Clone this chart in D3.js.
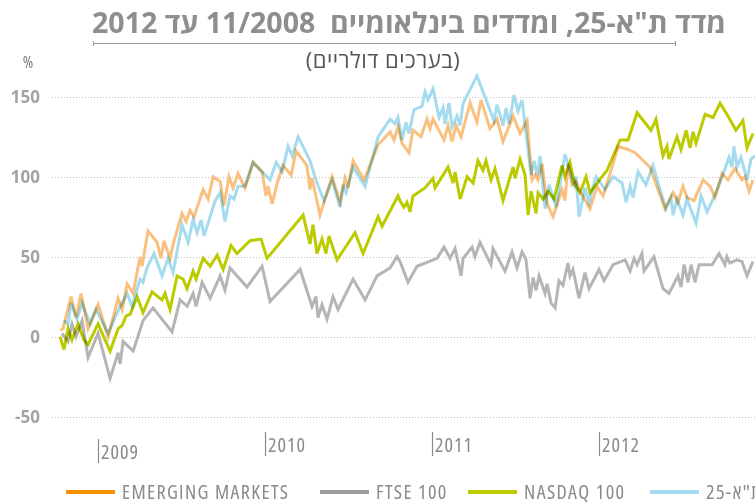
<!doctype html>
<html lang="he">
<head>
<meta charset="utf-8">
<style>
  body { margin: 0; background: #fff; }
  svg { display: block; font-family: "Open Sans", "DejaVu Sans", sans-serif; font-stretch: 87.5%; }
  .series { fill: none; stroke-width: 3; mix-blend-mode: multiply; stroke-linejoin: miter; }
  .grid line { stroke: #c4c4c4; stroke-dasharray: 1 2; }
</style>
</head>
<body>
<div id="chart"></div>
<script src="https://cdn.jsdelivr.net/npm/d3@7"></script>
<script>
// dates are decimal years, values are % change since 11/2008 (in dollars)
var emDates = [2008.772,2008.790,2008.838,2008.868,2008.898,2008.940,2009.000,2009.060,2009.120,2009.144,2009.174,2009.210,2009.251,2009.263,2009.299,2009.353,2009.377,2009.395,2009.431,2009.455,2009.503,2009.527,2009.551,2009.575,2009.629,2009.659,2009.689,2009.731,2009.754,2009.784,2009.808,2009.838,2009.880,2009.928,2009.982,2010.006,2010.018,2010.042,2010.078,2010.108,2010.156,2010.186,2010.251,2010.269,2010.281,2010.329,2010.401,2010.449,2010.479,2010.497,2010.527,2010.593,2010.677,2010.749,2010.772,2010.796,2010.820,2010.862,2010.886,2010.934,2010.970,2010.988,2011.006,2011.072,2011.096,2011.120,2011.144,2011.174,2011.228,2011.269,2011.293,2011.347,2011.389,2011.425,2011.485,2011.527,2011.569,2011.599,2011.617,2011.635,2011.659,2011.689,2011.725,2011.778,2011.796,2011.814,2011.838,2011.862,2011.886,2011.946,2011.988,2012.024,2012.078,2012.114,2012.174,2012.216,2012.305,2012.353,2012.395,2012.443,2012.473,2012.503,2012.527,2012.569,2012.623,2012.665,2012.695,2012.737,2012.772,2012.814,2012.856,2012.874,2012.898,2012.922];
var emValues = [4,5,25,12,27,5,20,0,24,17,33,27,50,44,66,59,49,60,49,60,77,72,79,75,92,86,100,97,82,100,93,102,93,109,103,88,94,83,98,107,101,116,107,92,99,76,100,84,99,93,110,98,120,128,123,131,121,115,129,125,136,130,136,123,132,122,132,125,146,134,148,130,136,122,138,127,135,98,101,98,108,83,75,92,85,108,95,97,91,80,94,88,106,119,117,115,106,92,80,90,84,94,87,85,98,94,87,102,98,105,98,100,91,98];

var ftDates = [2008.784,2008.820,2008.844,2008.868,2008.904,2008.940,2009.000,2009.072,2009.120,2009.132,2009.150,2009.210,2009.269,2009.329,2009.443,2009.491,2009.533,2009.569,2009.587,2009.623,2009.671,2009.731,2009.760,2009.790,2009.892,2009.982,2010.030,2010.210,2010.281,2010.305,2010.317,2010.341,2010.371,2010.407,2010.437,2010.527,2010.599,2010.671,2010.749,2010.790,2010.808,2010.856,2010.910,2011.030,2011.072,2011.108,2011.138,2011.174,2011.186,2011.240,2011.257,2011.287,2011.353,2011.365,2011.437,2011.479,2011.509,2011.539,2011.563,2011.587,2011.605,2011.623,2011.641,2011.677,2011.689,2011.713,2011.737,2011.760,2011.784,2011.814,2011.826,2011.844,2011.880,2011.916,2011.940,2012.000,2012.030,2012.084,2012.156,2012.186,2012.210,2012.228,2012.257,2012.269,2012.329,2012.383,2012.419,2012.473,2012.491,2012.509,2012.533,2012.551,2012.575,2012.599,2012.677,2012.719,2012.754,2012.766,2012.784,2012.826,2012.856,2012.886,2012.922];
var ftValues = [2,-3,8,0,10,-13,2,-26,-10,-17,-3,-9,10,18,3,23,19,27,19,34,24,38,29,43,31,44,22,42,19,25,12,20,11,25,17,36,23,38,43,50,47,34,44,49,56,49,55,38,49,56,50,59,45,55,41,53,43,53,48,24,37,29,38,27,33,21,18,35,32,46,38,42,24,40,30,42,35,45,48,41,49,45,52,41,50,30,27,38,31,45,34,45,34,45,45,52,45,50,46,48,47,38,47];

var ndDates = [2008.772,2008.796,2008.820,2008.844,2008.880,2008.916,2008.940,2009.000,2009.072,2009.120,2009.144,2009.168,2009.192,2009.234,2009.269,2009.323,2009.383,2009.401,2009.431,2009.473,2009.509,2009.533,2009.569,2009.587,2009.629,2009.671,2009.713,2009.749,2009.796,2009.832,2009.910,2009.976,2010.012,2010.228,2010.269,2010.287,2010.311,2010.341,2010.365,2010.383,2010.431,2010.539,2010.587,2010.677,2010.701,2010.796,2010.808,2010.832,2010.850,2010.868,2010.886,2010.958,2011.006,2011.018,2011.096,2011.126,2011.138,2011.168,2011.210,2011.246,2011.275,2011.305,2011.323,2011.353,2011.377,2011.425,2011.485,2011.497,2011.527,2011.557,2011.575,2011.593,2011.623,2011.635,2011.665,2011.695,2011.731,2011.778,2011.796,2011.826,2011.844,2011.862,2011.886,2011.922,2011.946,2012.018,2012.048,2012.126,2012.174,2012.228,2012.311,2012.341,2012.383,2012.407,2012.419,2012.467,2012.491,2012.521,2012.545,2012.563,2012.581,2012.635,2012.683,2012.725,2012.772,2012.820,2012.862,2012.886,2012.922];
var ndValues = [0,-8,5,-2,8,-2,-5,8,-9,5,7,13,14,25,15,28,23,27,17,38,36,30,41,36,49,44,51,42,57,52,60,61,49,76,58,70,52,61,52,63,48,65,52,75,69,88,85,81,84,78,88,93,99,93,106,96,103,86,100,96,110,104,110,98,105,85,106,99,111,101,76,91,77,90,86,91,86,107,100,109,100,94,90,100,90,100,104,123,123,140,129,136,113,119,111,125,117,129,118,128,121,139,137,146,138,129,135,118,127];

var taDates = [2008.796,2008.820,2008.838,2008.874,2008.904,2008.952,2008.988,2009.060,2009.114,2009.174,2009.204,2009.251,2009.269,2009.293,2009.335,2009.383,2009.419,2009.449,2009.503,2009.539,2009.569,2009.593,2009.617,2009.635,2009.701,2009.731,2009.760,2009.790,2009.814,2009.838,2009.880,2009.928,2010.030,2010.066,2010.102,2010.138,2010.162,2010.198,2010.269,2010.311,2010.353,2010.401,2010.449,2010.467,2010.485,2010.527,2010.599,2010.677,2010.749,2010.778,2010.796,2010.820,2010.844,2010.862,2010.892,2010.940,2010.958,2010.976,2011.006,2011.042,2011.066,2011.078,2011.102,2011.120,2011.150,2011.168,2011.186,2011.269,2011.371,2011.389,2011.425,2011.443,2011.461,2011.491,2011.515,2011.539,2011.593,2011.611,2011.629,2011.647,2011.677,2011.701,2011.743,2011.796,2011.850,2011.862,2011.880,2011.916,2011.940,2011.982,2012.036,2012.084,2012.138,2012.162,2012.186,2012.204,2012.234,2012.281,2012.323,2012.365,2012.401,2012.431,2012.443,2012.467,2012.503,2012.527,2012.581,2012.611,2012.647,2012.683,2012.737,2012.778,2012.796,2012.808,2012.826,2012.850,2012.886,2012.910,2012.934];
var taValues = [10,8,21,11,21,8,17,2,15,27,19,36,34,43,52,38,49,40,70,59,73,65,73,63,85,90,72,88,86,94,94,109,98,109,103,119,113,125,110,96,85,98,81,95,90,106,94,125,136,133,137,123,134,127,142,144,153,148,155,137,143,133,146,131,138,132,146,163,135,145,132,143,133,151,141,148,101,110,101,113,80,95,81,114,95,100,75,93,84,100,92,100,96,84,94,87,103,95,107,92,80,87,76,86,76,86,71,88,78,86,100,112,106,119,106,112,98,111,113];

var yTicks = [-50, 0, 50, 100, 150];
var yearTicks = [2009, 2010, 2011, 2012];

var seriesNames = ["EMERGING MARKETS", "FTSE 100", "NASDAQ 100", "ת\"א-25"];
var lineColors = ["#fac07f", "#b5b5b5", "#bccb00", "#a4dbee"];
var legendColors = ["#f39200", "#9d9d9d", "#bccb00", "#a4dbee"];

var width = 755, height = 504;

var svg = d3.select("#chart").append("svg")
    .attr("width", width).attr("height", height);

// title
svg.append("text")
    .attr("x", 409).attr("y", 33)
    .attr("direction", "rtl")
    .attr("text-anchor", "middle")
    .style("white-space", "pre")
    .style("font-size", "28.5px").style("font-weight", "bold")
    .style("font-stretch", "100%")
    .attr("fill", "#8e8e8e")
    .text("מדד ת\"א-25, ומדדים בינלאומיים  11/2008 עד 2012");

var ul = svg.append("g").attr("stroke", "#9a9a9a").attr("stroke-width", 1);
ul.append("line").attr("x1", 93).attr("x2", 676).attr("y1", 43.5).attr("y2", 43.5);
ul.append("line").attr("x1", 93.5).attr("x2", 93.5).attr("y1", 41).attr("y2", 46);
ul.append("line").attr("x1", 675.5).attr("x2", 675.5).attr("y1", 41).attr("y2", 46);

svg.append("text")
    .attr("x", 383).attr("y", 68)
    .attr("direction", "rtl")
    .attr("text-anchor", "middle")
    .style("font-size", "22px")
    .style("font-stretch", "100%")
    .style("letter-spacing", "0.5px")
    .attr("fill", "#555")
    .text("(בערכים דולריים)");

svg.append("text")
    .attr("x", 28).attr("y", 68)
    .attr("text-anchor", "middle")
    .style("font-size", "16px")
    .attr("fill", "#777")
    .text("%");

// scales
var allDates = emDates.concat(ftDates, ndDates, taDates);
var x = d3.scaleLinear().domain(d3.extent(allDates)).range([60, 755]);
var y = d3.scaleLinear().domain([-50, 150]).range([416.7, 96.7]);

// grid
var grid = svg.append("g").attr("class", "grid");
grid.selectAll("line").data(yTicks).enter().append("line")
    .attr("x1", 52).attr("x2", width)
    .attr("y1", d => Math.round(y(d)) + 0.5)
    .attr("y2", d => Math.round(y(d)) + 0.5);

svg.append("g").selectAll("text").data(yTicks).enter().append("text")
    .attr("x", 40).attr("y", d => y(d))
    .attr("dy", "0.36em")
    .attr("text-anchor", "end")
    .style("font-size", "17px").style("font-weight", "bold")
    .style("font-stretch", "100%")
    .attr("fill", "#a3a3a3")
    .text(d => d);

// year ticks: the 2009 one sits a bit lower
var xt = svg.append("g").selectAll("g").data(yearTicks).enter().append("g")
    .attr("transform", (d, i) => "translate(" + Math.round(x(d)) + "," + (i === 0 ? 7 : 0) + ")");
xt.append("line")
    .attr("x1", 0.5).attr("x2", 0.5).attr("y1", 432).attr("y2", 456)
    .attr("stroke", "#8a8a8a").attr("stroke-width", 1.2);
xt.append("text")
    .attr("x", 3).attr("y", 452)
    .style("font-size", "20px")
    .style("letter-spacing", "1px")
    .attr("fill", "#8a8a8a")
    .text(d => d);

// lines
var series = [
  {dates: emDates, values: emValues},
  {dates: ftDates, values: ftValues},
  {dates: ndDates, values: ndValues},
  {dates: taDates, values: taValues}
];

var line = d3.line()
    .x(d => x(d[0]))
    .y(d => y(d[1]));

svg.append("g").style("isolation", "isolate")
  .selectAll("path").data(series).enter().append("path")
    .attr("class", "series")
    .attr("stroke", (d, i) => lineColors[i])
    .attr("d", d => line(d3.zip(d.dates, d.values)));

// legend
var legendX = [66, 320, 468, 650];
var lg = svg.append("g").selectAll("g").data(seriesNames).enter().append("g")
    .attr("transform", (d, i) => "translate(" + legendX[i] + ",492)");
lg.append("line")
    .attr("x1", 0).attr("x2", 49)
    .attr("stroke", (d, i) => legendColors[i])
    .attr("stroke-width", 4);
lg.append("text")
    .attr("x", 56).attr("y", 7)
    .style("font-size", "20px")
    .style("letter-spacing", "1.4px")
    .attr("fill", "#8a8a8a")
    .text(d => d);
</script>
</body>
</html>
